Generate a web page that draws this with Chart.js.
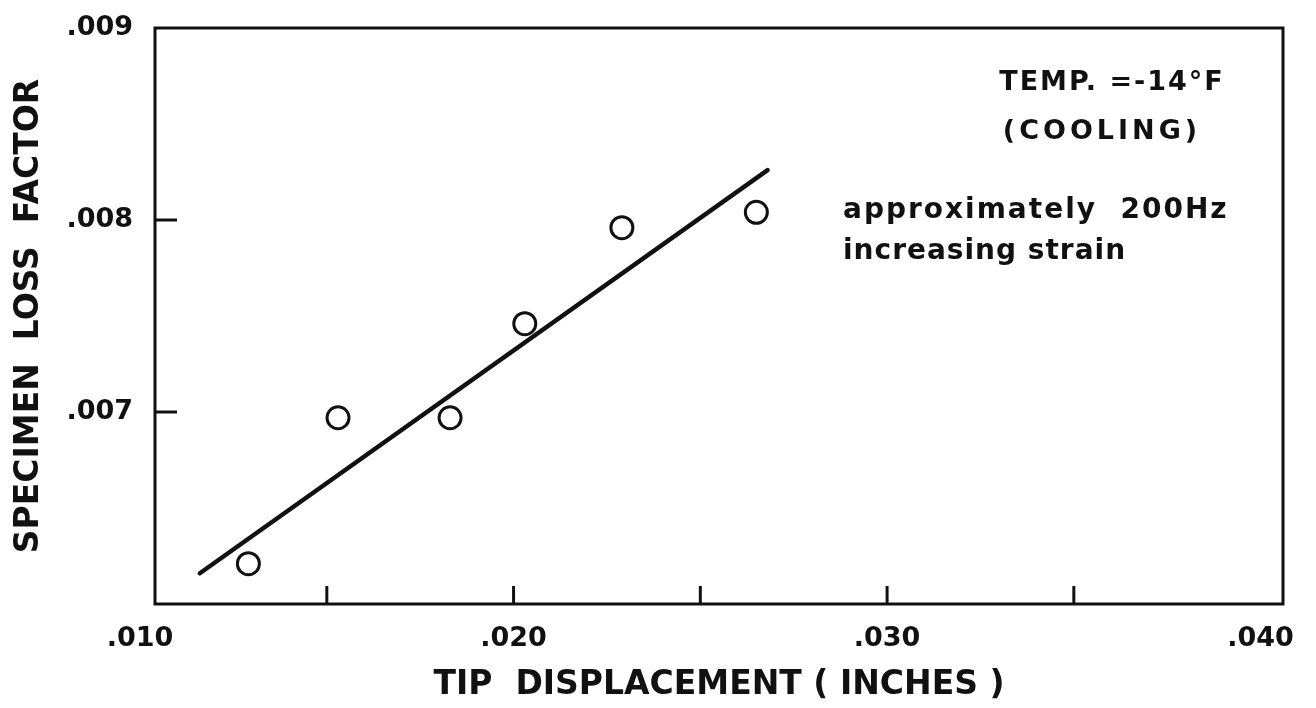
<!DOCTYPE html>
<html>
<head>
<meta charset="utf-8">
<title>Specimen loss factor vs tip displacement</title>
<script src="https://cdn.jsdelivr.net/npm/chart.js@4.4.1/dist/chart.umd.min.js"></script>
<style>
  html, body { margin: 0; padding: 0; background: #fff; }
  #wrap { width: 1316px; height: 708px; }
</style>
</head>
<body>
<div id="wrap"><canvas id="chart" width="1316" height="708"></canvas></div>
<script>
// measured points: tip displacement (in) and specimen loss factor
const tipDisp = [0.0129, 0.0153, 0.0183, 0.0203, 0.0229, 0.0265];
const lossFactor = [0.00621, 0.00697, 0.00697, 0.00746, 0.00796, 0.00804];

// hand-fitted straight line, two end points
const fitDisp = [0.0116, 0.0268];
const fitLoss = [0.00616, 0.00826];

// axis ticks
const xLabelTicks = [0.010, 0.020, 0.030, 0.040];
const xMarkTicks = [0.015, 0.020, 0.025, 0.030, 0.035];
const yLabelTicks = [0.007, 0.008, 0.009];
const yMarkTicks = [0.007, 0.008];

// notes in the upper right
const noteTemp = "TEMP. =-14°F";
const noteCooling = "(COOLING)";
const noteFreq = "approximately  200Hz";
const noteStrain = "increasing strain";

const FONT = '"DejaVu Sans", "Liberation Sans", sans-serif';
const INK = "#111";

// ".010" style labels
const fmt = (v) => "." + String(Math.round(v * 1000)).padStart(3, "0");

const points = tipDisp.map((x, i) => ({ x: x, y: lossFactor[i] }));
const fitLine = fitDisp.map((x, i) => ({ x: x, y: fitLoss[i] }));

// box frame, inward tick marks and the text notes
const framePlugin = {
  id: "frame",
  beforeDatasetsDraw(chart) {
    const { ctx, chartArea: a, scales } = chart;
    ctx.save();
    ctx.strokeStyle = INK;
    ctx.lineWidth = 3;
    ctx.strokeRect(a.left, a.top, a.right - a.left, a.bottom - a.top);
    ctx.beginPath();
    xMarkTicks.forEach((v) => {
      const px = scales.x.getPixelForValue(v);
      ctx.moveTo(px, a.bottom);
      ctx.lineTo(px, a.bottom - 18);
    });
    yMarkTicks.forEach((v) => {
      const py = scales.y.getPixelForValue(v);
      ctx.moveTo(a.left, py);
      ctx.lineTo(a.left + 22, py);
    });
    ctx.stroke();
    ctx.restore();
  },
  afterDraw(chart) {
    const { ctx } = chart;
    ctx.save();
    ctx.fillStyle = INK;
    ctx.textBaseline = "middle";
    ctx.font = "bold 27px " + FONT;
    ctx.letterSpacing = "2px";
    ctx.textAlign = "center";
    ctx.fillText(noteTemp, 1112, 83);
    ctx.letterSpacing = "4px";
    ctx.fillText(noteCooling, 1102, 132);
    ctx.textAlign = "left";
    ctx.font = "bold 28px " + FONT;
    ctx.letterSpacing = "2px";
    ctx.fillText(noteFreq, 843, 211);
    ctx.letterSpacing = "1px";
    ctx.fillText(noteStrain, 843, 252);
    ctx.restore();
  }
};

new Chart(document.getElementById("chart").getContext("2d"), {
  type: "scatter",
  data: {
    datasets: [
      {
        label: "measured",
        data: points,
        pointStyle: "circle",
        pointRadius: 11,
        pointHoverRadius: 11,
        pointBorderWidth: 3,
        pointBorderColor: INK,
        pointBackgroundColor: "#fff",
        order: 0
      },
      {
        label: "fit",
        data: fitLine,
        showLine: true,
        borderColor: INK,
        borderWidth: 4.5,
        borderCapStyle: "round",
        pointRadius: 0,
        order: 1
      }
    ]
  },
  options: {
    responsive: false,
    animation: false,
    events: [],
    layout: { padding: { top: 28, right: 33, left: 0, bottom: 0 } },
    plugins: {
      legend: { display: false },
      tooltip: { enabled: false }
    },
    scales: {
      x: {
        type: "linear",
        min: 0.0104,
        max: 0.0406,
        afterBuildTicks: (scale) => {
          scale.ticks = xLabelTicks.map((v) => ({ value: v }));
        },
        afterFit: (scale) => {
          scale.height = 104;
          scale.paddingLeft = 0;
          scale.paddingRight = 0;
        },
        grid: { display: false, drawTicks: false },
        border: { display: false },
        ticks: {
          autoSkip: false,
          maxRotation: 0,
          padding: 19,
          color: INK,
          font: { family: FONT, size: 27, weight: "bold" },
          callback: fmt
        },
        title: {
          display: true,
          text: "TIP  DISPLACEMENT ( INCHES )",
          color: INK,
          font: { family: FONT, size: 33, weight: "bold" },
          padding: { top: 0, bottom: 3 }
        }
      },
      y: {
        type: "linear",
        min: 0.006,
        max: 0.009,
        afterBuildTicks: (scale) => {
          scale.ticks = yLabelTicks.map((v) => ({ value: v }));
        },
        afterFit: (scale) => {
          scale.width = 155;
          scale.paddingTop = 0;
          scale.paddingBottom = 0;
        },
        grid: { display: false, drawTicks: false },
        border: { display: false },
        ticks: {
          autoSkip: false,
          padding: 22,
          color: INK,
          font: { family: FONT, size: 27, weight: "bold" },
          callback: fmt
        },
        title: {
          display: true,
          text: "SPECIMEN  LOSS  FACTOR",
          color: INK,
          font: { family: FONT, size: 33, weight: "bold" },
          padding: { top: 10, bottom: 0 }
        }
      }
    }
  },
  plugins: [framePlugin]
});
</script>
</body>
</html>
